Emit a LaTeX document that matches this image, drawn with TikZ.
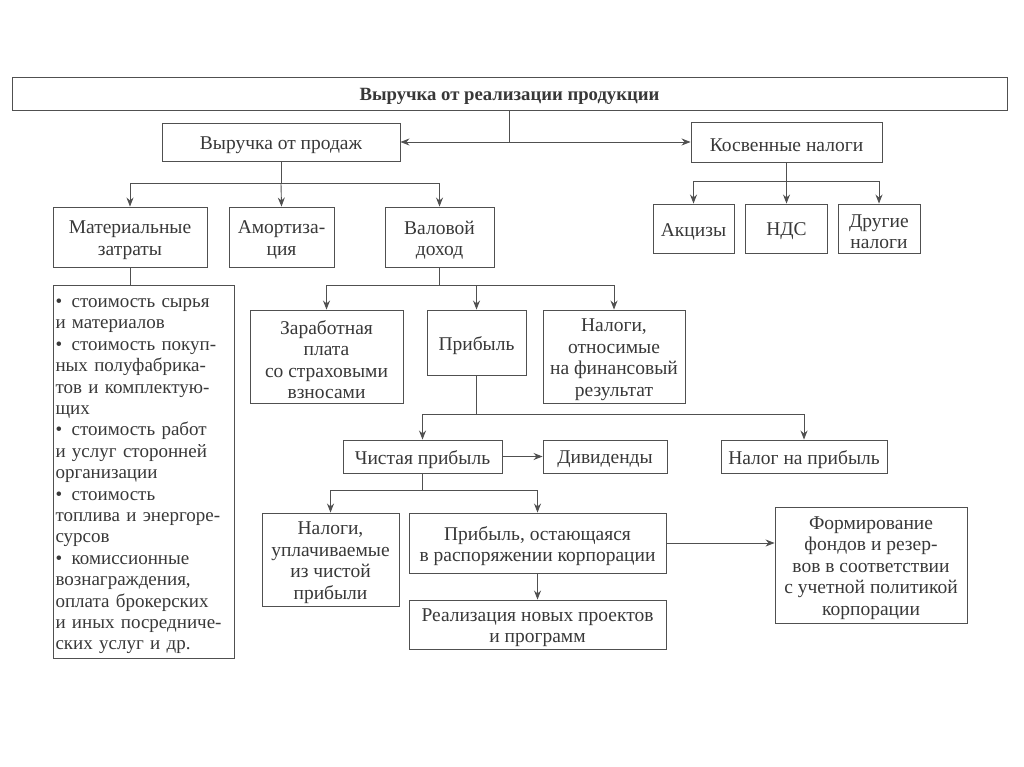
\documentclass[tikz,border=0pt]{standalone}
\usepackage{fontspec}
\setmainfont{Liberation Serif}
\usetikzlibrary{positioning, arrows.meta}

\definecolor{linegray}{HTML}{505050}
\definecolor{textgray}{HTML}{383838}

\tikzset{
  frame/.style={draw=linegray, line width=0.9pt, align=center, inner sep=0pt,
    text=textgray, font=\fontsize{19.5}{21.5}\selectfont},
  box/.style={frame,
    execute at begin node={\vbox\bgroup\kern6pt\hbox\bgroup},
    execute at end node={\egroup\egroup}},
  arr/.style={draw=linegray, line width=0.9pt, -{Stealth[length=9pt,width=7pt]}},
  ln/.style={draw=linegray, line width=0.9pt},
}

\begin{document}
\begin{tikzpicture}[x=1pt, y=-1pt]
	\useasboundingbox (0,0) rectangle (1024,767);
	% top level
	\node[box, minimum width=995pt, minimum height=33pt, font=\fontsize{18.7}{21}\selectfont\bfseries] (rev) at (509.5,93.5) {Выручка от реализации продукции};
	\node[box, minimum width=238pt, minimum height=38pt] (sales) at (281,142) {Выручка от продаж};
	\node[box, minimum width=191pt, minimum height=40pt] (indir) at (786.5,142) {Косвенные налоги};
	\draw[arr] (rev.south) |- (sales.east);
	\draw[arr] (rev.south) |- (indir.west);
	% sales branch
	\node[box, minimum width=154pt, minimum height=60pt] (mat) at (130,237) {Материальные\\затраты};
	\node[box, minimum width=105pt, minimum height=60pt] (amort) at (281.5,237) {Амортиза-\\ция};
	\node[box, minimum width=109pt, minimum height=60pt] (gross) at (439.5,237) {Валовой\\доход};
	\draw[arr] (sales.south)--++(0,22) coordinate (aux) -| (mat.north);
	\draw[arr] (aux) -| (gross.north);
	\draw[arr] (aux) -- (amort.north);
	% indirect taxes
	\node[box, minimum width=81pt, minimum height=49pt] (excise) at (693.5,228.5) {Акцизы};
	\node[box, minimum width=82pt, minimum height=49pt] (vat) at (786.5,228.5) {НДС};
	\node[box, minimum width=82pt, minimum height=49pt] (other) at (879,228.5) {Другие\\налоги};
	\draw[arr] (indir.south)--++(0,19) coordinate (aux) -| (excise.north);
	\draw[arr] (aux) -| (other.north);
	\draw[arr] (aux) -- (vat.north);
	% material costs list
	\node[frame, minimum width=181pt, minimum height=373pt, align=left, text width=176pt, inner xsep=2.5pt, font=\fontsize{19}{21.4}\selectfont, execute at begin node={\rule{0pt}{18.5pt}}] (list) at (143.5,471.5) {%
		•\enspace стоимость сырья\\
		и материалов\\
		•\enspace стоимость покуп-\\
		ных полуфабрика-\\
		тов и комплектую-\\
		щих\\
		•\enspace стоимость работ\\
		и услуг сторонней\\
		организации\\
		•\enspace стоимость\\
		топлива и энергоре-\\
		сурсов\\
		•\enspace комиссионные\\
		вознаграждения,\\
		оплата брокерских\\
		и иных посредниче-\\
		ских услуг и др.};
	\draw[ln] (mat.south) -- (list.north -| mat.south);
	% gross income
	\node[box, minimum width=153pt, minimum height=93pt] (wage) at (326.5,356.5) {Заработная\\плата\\со страховыми\\взносами};
	\node[box, minimum width=99pt, minimum height=65pt] (profit) at (476.5,342.5) {Прибыль};
	\node[box, minimum width=142pt, minimum height=93pt] (taxfin) at (614,356.5) {Налоги,\\относимые\\на финансовый\\результат};
	\draw[arr] (gross.south)--++(0,18) coordinate (aux) -| (wage.north);
	\draw[arr] (aux) -| (profit.north);
	\draw[arr] (aux) -| (taxfin.north);
	% profit
	\node[box, minimum width=159pt, minimum height=33pt] (net) at (422.5,456.5) {Чистая прибыль};
	\node[box, minimum width=124pt, minimum height=33pt] (div) at (605,456.5) {Дивиденды};
	\node[box, minimum width=166pt, minimum height=33pt] (ptax) at (804,456.5) {Налог на прибыль};
	\draw[arr] (profit.south)--++(0,39) coordinate (aux) -| (net.north);
	\draw[arr] (aux) -| (ptax.north);
	\draw[arr] (net.east) -- (div.west);
	% net profit
	\node[box, minimum width=137pt, minimum height=93pt] (taxnet) at (330.5,559.5) {Налоги,\\уплачиваемые\\из чистой\\прибыли};
	\node[box, minimum width=257pt, minimum height=60pt] (retain) at (537.5,543) {Прибыль, остающаяся\\в распоряжении корпорации};
	\node[box, minimum width=192pt, minimum height=116pt] (fund) at (871,565) {Формирование\\фондов и резер-\\вов в соответствии\\с учетной политикой\\корпорации};
	\node[box, minimum width=257pt, minimum height=49pt] (newproj) at (537.5,624.5) {Реализация новых проектов\\и программ};
	\draw[arr] (net.south)--++(0,17) coordinate (aux) -| (taxnet.north);
	\draw[arr] (aux) -| (retain.north);
	\draw[arr] (retain.east) -- (retain.east -| fund.west);
	\draw[arr] (retain.south) -- (newproj.north);
\end{tikzpicture}
\end{document}
